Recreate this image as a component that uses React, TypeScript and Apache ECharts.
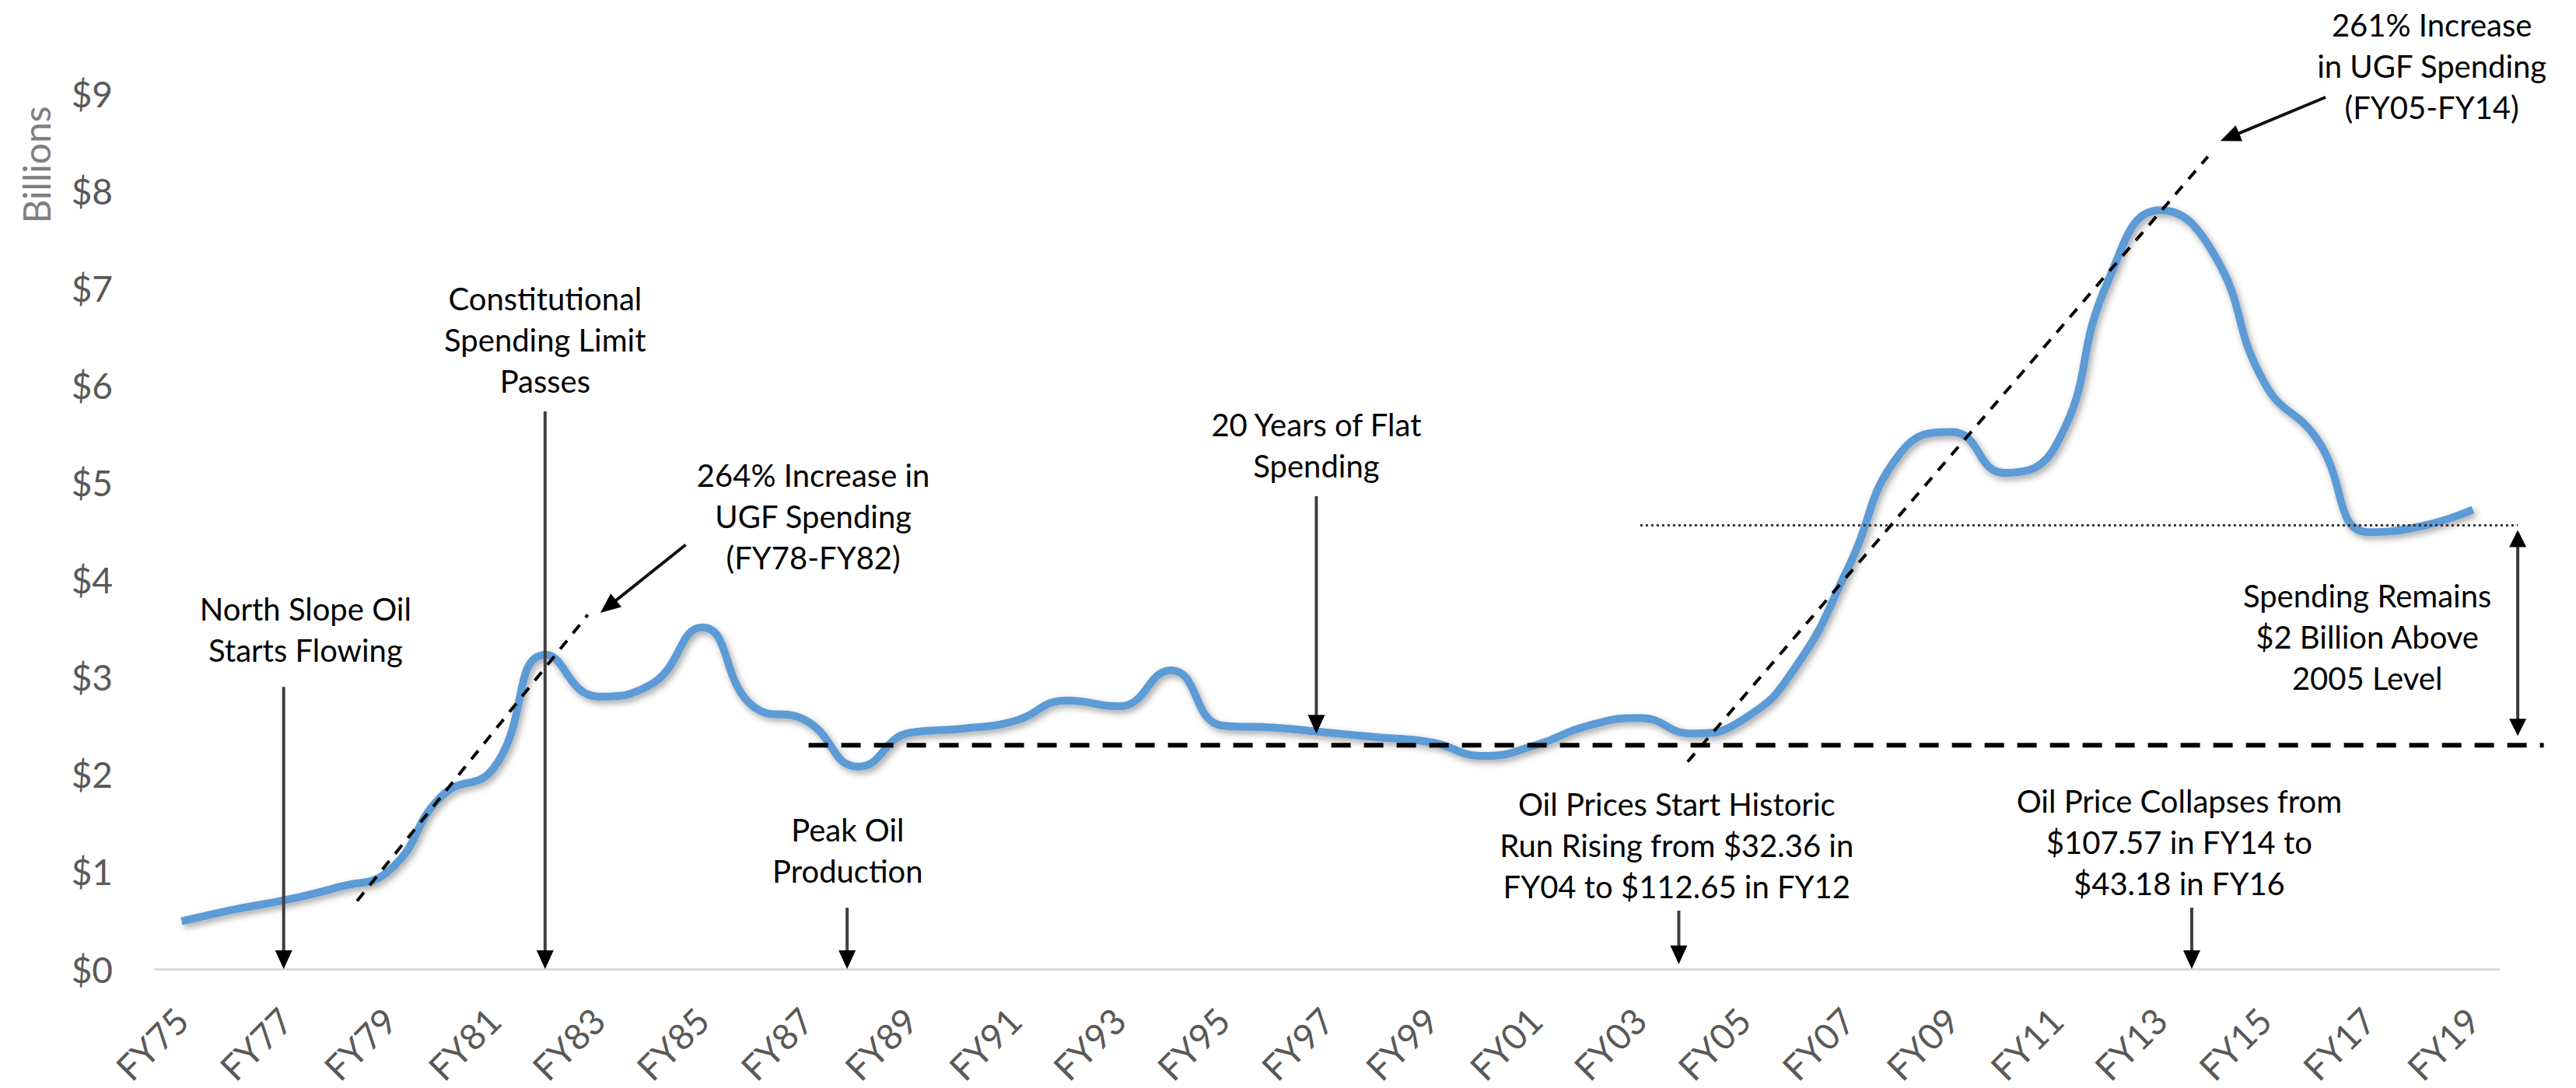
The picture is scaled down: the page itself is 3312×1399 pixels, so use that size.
import React, { useEffect, useRef } from "react";
import * as echarts from "echarts";

// ---------- data ----------
const CATEGORIES = [
  "FY75", "FY76", "FY77", "FY78", "FY79", "FY80", "FY81", "FY82", "FY83", "FY84",
  "FY85", "FY86", "FY87", "FY88", "FY89", "FY90", "FY91", "FY92", "FY93", "FY94",
  "FY95", "FY96", "FY97", "FY98", "FY99", "FY00", "FY01", "FY02", "FY03", "FY04",
  "FY05", "FY06", "FY07", "FY08", "FY09", "FY10", "FY11", "FY12", "FY13", "FY14",
  "FY15", "FY16", "FY17", "FY18", "FY19",
];

// UGF spending, billions of dollars
const UGF_SPENDING = [
  0.49, 0.61, 0.71, 0.84, 1.02, 1.78, 2.07, 3.23, 2.8, 2.92,
  3.51, 2.69, 2.55, 2.08, 2.43, 2.47, 2.55, 2.76, 2.7, 3.07,
  2.5, 2.48, 2.43, 2.38, 2.33, 2.19, 2.3, 2.5, 2.58, 2.42,
  2.57, 3.11, 4.12, 5.3, 5.52, 5.1, 5.39, 7.08, 7.8, 7.37,
  6.02, 5.45, 4.49, 4.55, 4.72,
];

const Y_MIN = 0;
const Y_MAX = 9;
const Y_INTERVAL = 1;

// reference levels (billions)
const FY05_LEVEL = 2.3;
const RECENT_LEVEL = 4.56;

// ---------- annotation layout (category index, value) ----------
const TEXT_NOTES = [
  { text: "North Slope Oil\nStarts Flowing", at: [2.38, 3.49] },
  { text: "Constitutional\nSpending Limit\nPasses", at: [6.98, 6.47] },
  { text: "264% Increase in\nUGF Spending\n(FY78-FY82)", at: [12.13, 4.65] },
  { text: "Peak Oil\nProduction", at: [12.79, 1.22] },
  { text: "20 Years of Flat\nSpending", at: [21.79, 5.38] },
  { text: "Oil Prices Start Historic\nRun Rising from $32.36 in\nFY04 to $112.65 in FY12", at: [28.71, 1.27] },
  { text: "Oil Price Collapses from\n$107.57 in FY14 to\n$43.18 in FY16", at: [38.36, 1.3] },
  { text: "Spending Remains\n$2 Billion Above\n2005 Level", at: [41.97, 3.41] },
  { text: "261% Increase\nin UGF Spending\n(FY05-FY14)", at: [43.21, 9.28] },
];

// vertical arrows: [index, topValue, tipValue]
const DOWN_ARROWS = [
  [1.96, 2.9, 0],
  [6.98, 5.73, 0],
  [12.78, 0.63, 0],
  [21.79, 4.86, 2.42],
  [28.75, 0.6, 0.05],
  [38.6, 0.63, 0],
];

// slanted arrows: tail -> tip
const SLANT_ARROWS = [
  { from: [9.68, 4.36], to: [8.04, 3.66] },
  { from: [41.17, 8.96], to: [39.15, 8.51] },
];

// dashed trend lines
const TREND_LINES = [
  { from: [3.37, 0.7], to: [7.8, 3.64] },
  { from: [28.92, 2.13], to: [38.91, 8.35] },
];

const FONT = "Lato, 'Open Sans', sans-serif";

export default function App() {
  const ref = useRef<HTMLDivElement>(null);

  useEffect(() => {
    const chart = echarts.init(ref.current!, null, { renderer: "svg" });

    const option: any = {
      animation: false,
      backgroundColor: "#ffffff",
      grid: { left: 200, right: 99, top: 120, bottom: 153, containLabel: false },
      xAxis: {
        type: "category",
        data: CATEGORIES,
        boundaryGap: true,
        axisLine: { show: true, lineStyle: { color: "#d9d9d9", width: 3 } },
        axisTick: { show: false },
        splitLine: { show: false },
        axisLabel: {
          interval: 1,
          rotate: 45,
          margin: 58,
          color: "#595959",
          fontSize: 46,
          fontFamily: FONT,
        },
      },
      yAxis: {
        type: "value",
        min: Y_MIN,
        max: Y_MAX,
        interval: Y_INTERVAL,
        axisLine: { show: false },
        axisTick: { show: false },
        splitLine: { show: false },
        axisLabel: {
          margin: 55,
          color: "#595959",
          fontSize: 46,
          fontFamily: FONT,
          formatter: (v: number) => "$" + v,
        },
      },
      series: [
        {
          type: "line",
          data: UGF_SPENDING,
          smooth: true,
          symbol: "none",
          z: 3,
          lineStyle: {
            color: "#5B9BD5",
            width: 10,
            shadowColor: "rgba(0,0,0,0.35)",
            shadowBlur: 8,
            shadowOffsetX: 3,
            shadowOffsetY: 4,
          },
        },
      ],
    };
    chart.setOption(option);

    const x0 = chart.convertToPixel({ xAxisIndex: 0 }, 0) as number;
    const x1 = chart.convertToPixel({ xAxisIndex: 0 }, 1) as number;
    const step = x1 - x0;
    const X = (t: number) => x0 + t * step;
    const Y = (v: number) => chart.convertToPixel({ yAxisIndex: 0 }, v) as number;

    const els: any[] = [];

    const head = (tx: number, ty: number, dx: number, dy: number, len: number, w: number) => {
      const L = Math.hypot(dx, dy) || 1;
      const ux = dx / L, uy = dy / L;
      const bx = tx - ux * len, by = ty - uy * len;
      const px = -uy, py = ux;
      return {
        type: "polygon",
        z: 20,
        shape: {
          points: [
            [tx, ty],
            [bx + px * w / 2, by + py * w / 2],
            [bx - px * w / 2, by - py * w / 2],
          ],
        },
        style: { fill: "#000000", stroke: "none" },
      };
    };

    const arrow = (ax: number, ay: number, bx: number, by: number, lw: number, stroke: string, len: number, w: number, both = false) => {
      const dx = bx - ax, dy = by - ay;
      const L = Math.hypot(dx, dy);
      const ux = dx / L, uy = dy / L;
      const sx = both ? ax + ux * len * 0.7 : ax;
      const sy = both ? ay + uy * len * 0.7 : ay;
      els.push({
        type: "line",
        z: 19,
        shape: { x1: sx, y1: sy, x2: bx - ux * len * 0.7, y2: by - uy * len * 0.7 },
        style: { stroke, lineWidth: lw },
      });
      els.push(head(bx, by, dx, dy, len, w));
      if (both) els.push(head(ax, ay, -dx, -dy, len, w));
    };

    // long dashed FY05 level line
    els.push({
      type: "line",
      z: 15,
      shape: { x1: X(12.04), y1: Y(FY05_LEVEL), x2: X(45.36), y2: Y(FY05_LEVEL) },
      style: { stroke: "#000000", lineWidth: 6, lineDash: [25, 17] },
    });

    // dotted recent level line
    els.push({
      type: "line",
      z: 15,
      shape: { x1: X(28.01), y1: Y(RECENT_LEVEL), x2: X(44.86), y2: Y(RECENT_LEVEL) },
      style: { stroke: "#333333", lineWidth: 3, lineDash: [3, 4] },
    });

    // double arrow between the two levels
    arrow(X(44.86), Y(RECENT_LEVEL) + 6, X(44.86), Y(FY05_LEVEL) - 12, 4, "#3a3a3a", 22, 22, true);

    // trend lines
    TREND_LINES.forEach((t) => {
      els.push({
        type: "line",
        z: 16,
        shape: { x1: X(t.from[0]), y1: Y(t.from[1]), x2: X(t.to[0]), y2: Y(t.to[1]) },
        style: { stroke: "#000000", lineWidth: 4, lineDash: [14, 12] },
      });
    });

    // vertical arrows
    DOWN_ARROWS.forEach(([i, top, tip]) => {
      arrow(X(i), Y(top), X(i), Y(tip), 4, "#3f3f3f", 24, 22);
    });

    // slanted arrows
    SLANT_ARROWS.forEach((a) => {
      arrow(X(a.from[0]), Y(a.from[1]), X(a.to[0]), Y(a.to[1]), 4, "#111111", 26, 22);
    });

    // notes
    TEXT_NOTES.forEach((n) => {
      els.push({
        type: "text",
        z: 25,
        x: X(n.at[0]),
        y: Y(n.at[1]),
        style: {
          text: n.text,
          fontSize: 40,
          fontFamily: FONT,
          fill: "#000000",
          textAlign: "center",
          textVerticalAlign: "middle",
          align: "center",
          verticalAlign: "middle",
          lineHeight: 53,
        },
      });
    });

    // axis title
    els.push({
      type: "text",
      z: 25,
      x: 46,
      y: 212,
      rotation: Math.PI / 2,
      style: {
        text: "Billions",
        fontSize: 48,
        fontFamily: FONT,
        fill: "#7f7f7f",
        textAlign: "center",
        textVerticalAlign: "middle",
        align: "center",
        verticalAlign: "middle",
      },
    });

    chart.setOption({ graphic: { elements: els } });

    return () => chart.dispose();
  }, []);

  return (
    <div
      ref={ref}
      style={{ position: "fixed", left: 0, top: 0, width: 3312, height: 1399, background: "#fff" }}
    />
  );
}
